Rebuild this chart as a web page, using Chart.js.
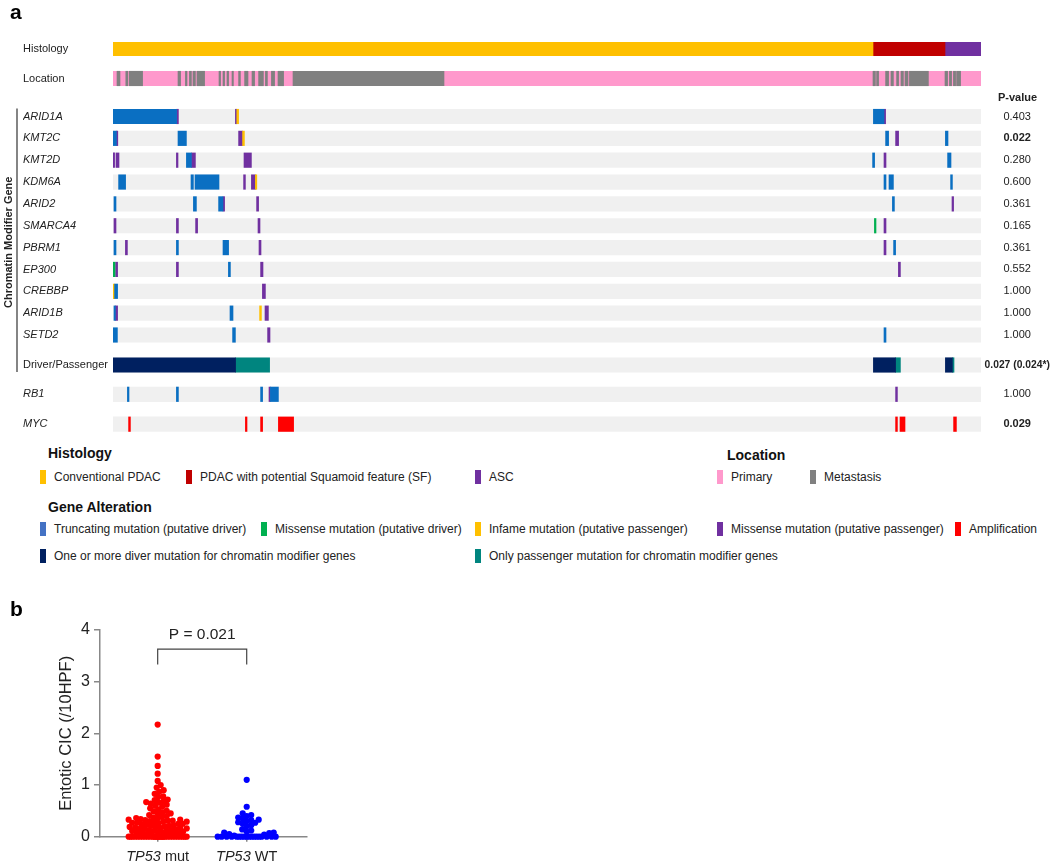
<!DOCTYPE html>
<html>
<head>
<meta charset="utf-8">
<script src="https://cdn.jsdelivr.net/npm/chart.js@4.4.1/dist/chart.umd.min.js"></script>
<style>
  body { margin: 0; background: #fff; font-family: "Liberation Sans", Arial, sans-serif; color: #222; }
  #page { position: relative; width: 1050px; height: 862px; overflow: hidden; }
  .abs { position: absolute; white-space: nowrap; }
  .panel { font-size: 21px; font-weight: bold; color: #000; }
  .head { font-size: 14px; font-weight: bold; line-height: 18px; color: #111; }
  .item { font-size: 12px; line-height: 16px; color: #222; }
  .sw { display: inline-block; width: 6px; height: 14px; vertical-align: middle; margin-right: 8px; margin-top: -2px; }
  #oncoprint { position: absolute; left: 0; top: 0; }
  #swarm { position: absolute; left: 0; top: 580px; }
</style>
</head>
<body>
<div id="page">
  <canvas id="oncoprint" width="1050" height="440"></canvas>
  <canvas id="swarm" width="330" height="282"></canvas>

  <div class="abs panel" style="left:10px;top:0px;">a</div>
  <div class="abs panel" style="left:10px;top:597px;">b</div>

  <div class="abs head" style="left:48px;top:444px;">Histology</div>
  <div class="abs item" style="left:40px;top:469px;"><span class="sw" style="background:#ffc000"></span>Conventional PDAC</div>
  <div class="abs item" style="left:186px;top:469px;"><span class="sw" style="background:#c00000"></span>PDAC with potential Squamoid feature (SF)</div>
  <div class="abs item" style="left:475px;top:469px;"><span class="sw" style="background:#7030a0"></span>ASC</div>

  <div class="abs head" style="left:727px;top:446px;">Location</div>
  <div class="abs item" style="left:717px;top:469px;"><span class="sw" style="background:#ff99cc"></span>Primary</div>
  <div class="abs item" style="left:810px;top:469px;"><span class="sw" style="background:#808080"></span>Metastasis</div>

  <div class="abs head" style="left:48px;top:498px;">Gene Alteration</div>
  <div class="abs item" style="left:40px;top:521px;"><span class="sw" style="background:#4472c4"></span>Truncating mutation (putative driver)</div>
  <div class="abs item" style="left:261px;top:521px;"><span class="sw" style="background:#00b050"></span>Missense mutation (putative driver)</div>
  <div class="abs item" style="left:475px;top:521px;"><span class="sw" style="background:#ffc000"></span>Infame mutation (putative passenger)</div>
  <div class="abs item" style="left:717px;top:521px;"><span class="sw" style="background:#7030a0"></span>Missense mutation (putative passenger)</div>
  <div class="abs item" style="left:955px;top:521px;"><span class="sw" style="background:#ff0000"></span>Amplification</div>
  <div class="abs item" style="left:40px;top:548px;"><span class="sw" style="background:#002060"></span>One or more diver mutation for chromatin modifier genes</div>
  <div class="abs item" style="left:475px;top:548px;"><span class="sw" style="background:#00857f"></span>Only passenger mutation for chromatin modifier genes</div>
</div>

<script>
const FONT = '"Liberation Sans", Arial, sans-serif';
Chart.defaults.font.family = FONT;

// ---------- panel a data (sample slots 0..434, left to right) ----------
const nSlots = 434;
const histology = [[0, 380, 'conv'], [380, 416, 'sf'], [416, 434, 'asc']];
// metastasis stretches on the Location track, the rest is primary
const metastasis = [[2, 3.5], [6.4, 7.4], [8.1, 14.8], [32.5, 33.8], [36.2, 37], [38.2, 39.2], [40, 41.2],
  [42, 45.8], [53, 53.8], [55, 55.8], [57, 57.8], [59.5, 60.2], [62.8, 63.7], [65.8, 67.5], [69.5, 70.8],
  [72.8, 75.2], [76.2, 77.2], [79.2, 80.8], [82.5, 85.3], [90, 165.5], [380, 381.2], [381.8, 382.8],
  [386.3, 387.8], [389, 390.2], [391.8, 392.8], [394, 395.2], [396, 397.5], [398.2, 407.7], [416, 417.3],
  [418.2, 419.3], [420.2, 421.3], [421.8, 423.8]];

// T = truncating (driver), MD = missense (driver), IF = inframe (passenger),
// MP = missense (passenger), AMP = amplification, DRV / PAS = driver / passenger summary
const ARID1A = [[0, 31.8, 'T'], [31.8, 32.7, 'MP'], [61.2, 61.9, 'MP'], [61.9, 62.8, 'IF'], [380.2, 385.5, 'T'], [385.5, 386.3, 'MP']];
const KMT2C = [[0, 1.7, 'T'], [1.7, 2.4, 'MP'], [32.5, 36.7, 'T'], [62.8, 64.8, 'MP'], [64.8, 65.7, 'IF'], [386.3, 387.8, 'T'], [391.3, 392.8, 'MP'], [416.2, 417.5, 'T']];
const KMT2D = [[0, 0.8, 'MP'], [1.5, 3, 'MP'], [31.7, 32.5, 'MP'], [36.7, 39.2, 'T'], [39.2, 41.2, 'MP'], [65.5, 69.2, 'MP'], [379.8, 380.8, 'T'], [385.5, 386.5, 'MP'], [417.3, 419, 'T']];
const KDM6A = [[2.8, 6.3, 'T'], [39, 40.2, 'T'], [41, 53, 'T'], [65.3, 66.2, 'MP'], [69.2, 71.2, 'MP'], [71.2, 71.9, 'IF'], [385.5, 386.5, 'T'], [388, 390.2, 'T'], [418.8, 419.7, 'T']];
const ARID2 = [[0.5, 1.5, 'T'], [40.2, 41.7, 'T'], [52.8, 55, 'T'], [55, 55.8, 'MP'], [71.8, 72.8, 'MP'], [389.7, 390.7, 'T'], [419.5, 420.3, 'MP']];
const SMARCA4 = [[0.5, 1.5, 'MP'], [31.7, 32.7, 'MP'], [41.3, 42.3, 'MP'], [72.5, 73.5, 'MP'], [380.7, 381.5, 'MD'], [385.5, 386.5, 'MP']];
const PBRM1 = [[0.5, 1.5, 'T'], [6.2, 7.2, 'MP'], [31.7, 32.7, 'T'], [55, 57.8, 'T'], [73, 74, 'MP'], [385.5, 386.5, 'MP'], [390.3, 391.3, 'T']];
const EP300 = [[0, 1, 'MD'], [1.3, 2.3, 'MP'], [31.7, 32.7, 'MP'], [57.7, 58.7, 'T'], [73.8, 75, 'MP'], [392.7, 393.7, 'MP']];
const CREBBP = [[0, 0.8, 'IF'], [0.8, 2.3, 'T'], [74.7, 76.2, 'MP']];
const ARID1B = [[0.5, 1.2, 'T'], [1.2, 2.3, 'MP'], [58.5, 60, 'T'], [73.3, 74.2, 'IF'], [76, 77.7, 'MP']];
const SETD2 = [[0, 2.2, 'T'], [59.8, 61.2, 'T'], [77.3, 78.5, 'MP'], [385.5, 386.5, 'T']];
const DriverPassenger = [[0, 61.3, 'DRV'], [61.3, 78.3, 'PAS'], [380.2, 391.3, 'DRV'], [391.3, 393.7, 'PAS'], [416.2, 419.7, 'DRV'], [419.7, 420.5, 'PAS']];
const RB1 = [[7.2, 8, 'T'], [31.7, 32.7, 'T'], [73.8, 74.8, 'T'], [78, 78.7, 'MP'], [78.7, 82.7, 'T'], [391.3, 392.2, 'MP']];
const MYC = [[7.8, 8.7, 'AMP'], [66.2, 67, 'AMP'], [73.8, 74.8, 'AMP'], [82.7, 90.3, 'AMP'], [391.3, 392.2, 'AMP'], [393.5, 396, 'AMP'], [420.3, 421.7, 'AMP']];

const geneNames = ['ARID1A', 'KMT2C', 'KMT2D', 'KDM6A', 'ARID2', 'SMARCA4', 'PBRM1', 'EP300', 'CREBBP', 'ARID1B', 'SETD2'];
const pValues = ['0.403', '0.022', '0.280', '0.600', '0.361', '0.165', '0.361', '0.552', '1.000', '1.000', '1.000', '0.027 (0.024*)', '1.000', '0.029'];
const boldP = ['0.022', '0.027 (0.024*)', '0.029'];

// ---------- panel b data ----------
const tp53Mut = [2.17, 1.55, 1.37, 1.22, 1.08, 1.00, 0.95, 0.90, 0.87, 0.83,
  0.78, 0.77, 0.72, 0.71, 0.68, 0.67, 0.66, 0.64, 0.62, 0.60,
  0.58, 0.55, 0.53, 0.50, 0.49, 0.47, 0.45,
  0.44, 0.42, 0.40, 0.38, 0.37, 0.36, 0.35, 0.34, 0.33, 0.33, 0.32, 0.31, 0.31,
  0.30, 0.29, 0.29, 0.28, 0.27, 0.27, 0.26, 0.25, 0.25, 0.24, 0.23, 0.22, 0.21, 0.21, 0.20,
  0.19, 0.19, 0.18, 0.17, 0.17, 0.16, 0.15, 0.15, 0.14, 0.13, 0.13, 0.12, 0.11, 0.11, 0.10,
  0.09, 0.09, 0.08, 0.07, 0.07, 0.06, 0.05, 0.05, 0.04, 0.03, 0.02,
  0, 0, 0, 0, 0, 0, 0, 0, 0, 0, 0, 0, 0, 0, 0,
  0, 0, 0, 0, 0, 0, 0, 0, 0, 0, 0, 0, 0, 0, 0];
const tp53WT = [1.10, 0.58, 0.45, 0.42, 0.40, 0.37, 0.35, 0.33, 0.32, 0.30,
  0.28, 0.27, 0.25, 0.22, 0.20, 0.14, 0.12, 0.10, 0.08, 0.08,
  0.07, 0.05, 0.04, 0.02,
  0, 0, 0, 0, 0, 0, 0, 0, 0, 0, 0, 0, 0, 0, 0, 0, 0, 0];
const groupLabels = [['TP53', ' mut'], ['TP53', ' WT']];

// ---------- panel a layout ----------
const rowY = { 'Histology': 49, 'Location': 78.5, 'Driver/Passenger': 365, 'RB1': 394.3, 'MYC': 424.2 };
geneNames.forEach((g, i) => { rowY[g] = 116.5 + i * 21.85; });
const rowNames = ['Histology', 'Location', ...geneNames, 'Driver/Passenger', 'RB1', 'MYC'];
const pRows = [...geneNames, 'Driver/Passenger', 'RB1', 'MYC'];
const plainRows = ['Histology', 'Location', 'Driver/Passenger'];
const alterations = { ARID1A, KMT2C, KMT2D, KDM6A, ARID2, SMARCA4, PBRM1, EP300, CREBBP, ARID1B, SETD2, 'Driver/Passenger': DriverPassenger, RB1, MYC };

const altColors = { T: '#0a6fc2', MD: '#00b050', IF: '#ffc000', MP: '#7030a0', AMP: '#ff0000', DRV: '#002060', PAS: '#00857f' };
const histColors = { conv: '#ffc000', sf: '#c00000', asc: '#7030a0' };

function bars(label, data, color, thick, order) {
  return { label, data, backgroundColor: color, barThickness: thick, grouped: false, order, borderWidth: 0 };
}

const datasets = [];
datasets.push(bars('row', pRows.map(r => ({ x: [0, nSlots], y: rowY[r] })), '#f0f0f0', 14.5, 100));
datasets.push(bars('Primary', [{ x: [0, nSlots], y: rowY['Location'] }], '#ff99cc', 14.5, 90));
datasets.push(bars('Metastasis', metastasis.map(s => ({ x: s, y: rowY['Location'] })), '#808080', 14.5, 80));
Object.keys(histColors).forEach(k => {
  datasets.push(bars(k, histology.filter(h => h[2] === k).map(h => ({ x: [h[0], h[1]], y: rowY['Histology'] })), histColors[k], 13.5, 70));
});
Object.keys(altColors).forEach(k => {
  const pts = [];
  pRows.forEach(r => alterations[r].forEach(a => { if (a[2] === k) pts.push({ x: [a[0], a[1]], y: rowY[r] }); }));
  datasets.push(bars(k, pts, altColors[k], 14.5, 10));
});

const sidePlugin = {
  id: 'side',
  afterDraw(chart) {
    const c = chart.ctx, y = chart.scales.y;
    const top = y.getPixelForValue(rowY['ARID1A']) - 8;
    const bot = y.getPixelForValue(rowY['Driver/Passenger']) + 7;
    c.save();
    c.strokeStyle = '#333';
    c.lineWidth = 1.2;
    c.beginPath(); c.moveTo(17, top); c.lineTo(17, bot); c.stroke();
    c.fillStyle = '#222';
    c.textAlign = 'center';
    c.textBaseline = 'middle';
    // p-value column
    c.font = 'bold 11px ' + FONT;
    c.fillText('P-value', 1017.5, y.getPixelForValue(98));
    pRows.forEach((r, i) => {
      const txt = pValues[i];
      const size = txt.length > 6 ? 10.3 : 11;
      c.font = (boldP.includes(txt) ? 'bold ' : '') + size + 'px ' + FONT;
      c.fillText(txt, 1017.2, y.getPixelForValue(rowY[r]));
    });
    c.font = 'bold 11px ' + FONT;
    c.translate(9, (top + bot) / 2 + 2);
    c.rotate(-Math.PI / 2);
    c.fillText('Chromatin Modifier Gene', 0, 0);
    c.restore();
  }
};

new Chart(document.getElementById('oncoprint'), {
  type: 'bar',
  data: { datasets },
  options: {
    indexAxis: 'y',
    responsive: false,
    animation: false,
    layout: { padding: { left: 23, top: 38, bottom: 4, right: 69 } },
    plugins: { legend: { display: false }, tooltip: { enabled: false } },
    scales: {
      x: { type: 'linear', min: 0, max: nSlots, display: false },
      y: {
        type: 'linear', min: 38, max: 436, reverse: true, offset: false,
        grid: { display: false, offset: false }, border: { display: false },
        afterBuildTicks: s => { s.ticks = rowNames.map(n => ({ value: rowY[n] })); },
        afterFit: s => { s.width = 90; s.paddingTop = 0; s.paddingBottom = 0; },
        ticks: {
          autoSkip: false, crossAlign: 'far', color: '#222',
          callback: (v, i) => rowNames[i],
          font: c => ({ family: FONT, size: 11, style: plainRows.includes(rowNames[c.index]) ? 'normal' : 'italic' })
        }
      }
    }
  },
  plugins: [sidePlugin]
});

// ---------- panel b ----------
const pxPerUnit = 51.7, pxPerGroup = 89, halfWidth = 29, dotD = 4.6;

// simple beeswarm: each dot goes to the free spot nearest the group centre,
// squeezed in where the row is full
function swarm(values, group) {
  const placed = [];
  const sorted = values.slice().sort((a, b) => a - b);
  const cands = [0];
  for (let k = 0.5; k <= halfWidth; k += 0.5) { cands.push(k, -k); }
  sorted.forEach(v => {
    const py = v * pxPerUnit;
    let best = 0, bestScore = -1;
    for (const cx of cands) {
      let md = Infinity;
      for (const p of placed) {
        const dy = p.py - py;
        if (Math.abs(dy) >= dotD) continue;
        const d = Math.hypot(p.px - cx, dy);
        if (d < md) md = d;
      }
      if (md >= dotD) { best = cx; bestScore = Infinity; break; }
      if (md > bestScore + 0.01) { bestScore = md; best = cx; }
    }
    placed.push({ px: best, py });
  });
  return placed.map(p => ({ x: group + p.px / pxPerGroup, y: p.py / pxPerUnit }));
}

const groupPlugin = {
  id: 'groups',
  afterDraw(chart) {
    const c = chart.ctx, x = chart.scales.x, y = chart.scales.y;
    c.save();
    c.fillStyle = '#222';
    c.textBaseline = 'middle';
    groupLabels.forEach((g, i) => {
      const it = 'italic 14.5px ' + FONT, rg = '14.5px ' + FONT;
      c.font = it; const w1 = c.measureText(g[0]).width;
      c.font = rg; const w2 = c.measureText(g[1]).width;
      const x0 = x.getPixelForValue(i) - (w1 + w2) / 2;
      c.textAlign = 'left';
      c.font = it; c.fillText(g[0], x0, 277);
      c.font = rg; c.fillText(g[1], x0 + w1, 277);
    });
    const xa = x.getPixelForValue(0), xb = x.getPixelForValue(1);
    const yt = y.getPixelForValue(3.63), yl = y.getPixelForValue(3.33);
    c.strokeStyle = '#444';
    c.lineWidth = 1.2;
    c.beginPath(); c.moveTo(xa, yl); c.lineTo(xa, yt); c.lineTo(xb, yt); c.lineTo(xb, yl); c.stroke();
    c.font = '15.5px ' + FONT;
    c.textAlign = 'center';
    c.fillText('P = 0.021', (xa + xb) / 2, y.getPixelForValue(3.9));
    c.restore();
  }
};

new Chart(document.getElementById('swarm'), {
  type: 'scatter',
  data: {
    datasets: [
      { data: swarm(tp53Mut, 0), backgroundColor: '#ff0000', pointRadius: 3.1, borderWidth: 0, clip: false },
      { data: swarm(tp53WT, 1), backgroundColor: '#0000ff', pointRadius: 3.1, borderWidth: 0, clip: false }
    ]
  },
  options: {
    responsive: false,
    animation: false,
    layout: { padding: { left: 50, top: 50, right: 23.3, bottom: 0 } },
    plugins: { legend: { display: false }, tooltip: { enabled: false } },
    scales: {
      x: {
        type: 'linear', min: -0.648, max: 1.674,
        afterBuildTicks: s => { s.ticks = [{ value: 0 }, { value: 1 }]; },
        afterFit: s => { s.height = 25.3; },
        grid: { drawOnChartArea: false, tickLength: 5, color: '#888', lineWidth: 1.5 },
        border: { color: '#888', width: 1.5 },
        ticks: { callback: () => '' }
      },
      y: {
        min: 0, max: 4,
        afterFit: s => { s.width = 50; },
        grid: { drawOnChartArea: false, tickLength: 6, color: '#888', lineWidth: 1.5 },
        border: { color: '#888', width: 1.5 },
        ticks: { stepSize: 1, padding: 4, color: '#222', font: { size: 16 } },
        title: { display: true, text: 'Entotic CIC (/10HPF)', color: '#222', font: { size: 16.5 }, padding: { top: 7, bottom: 0 } }
      }
    }
  },
  plugins: [groupPlugin]
});
</script>
</body>
</html>
